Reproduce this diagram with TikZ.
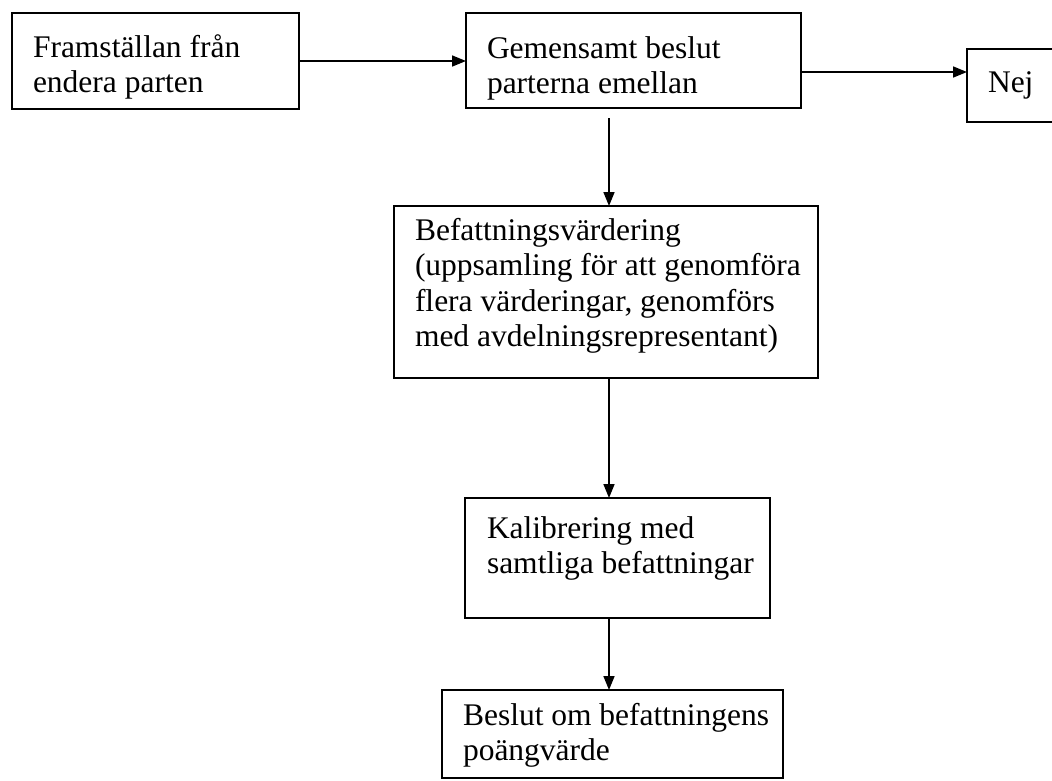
\documentclass[tikz,border=0pt]{standalone}
\usepackage{fontspec}
\setmainfont{Liberation Serif}
\usetikzlibrary{arrows.meta}
\newcommand{\boxtxt}[5]{\parbox[c][#2][t]{#1}{\vspace*{#3}\raggedright\leftskip=#4\relax
\fontsize{31.5pt}{35.5pt}\selectfont\rule{0pt}{25pt}#5}}
\tikzset{
  flowbox/.style={draw=black, line width=1.8pt, anchor=north west, inner sep=0pt, outer sep=0pt},
  arr/.style={draw=black, line width=1.7pt, -{Triangle[length=14pt,width=11pt]}}
}
\begin{document}
\begin{tikzpicture}[x=1pt,y=-1pt]
\clip (0,0) rectangle (1052,780);
\fill[white] (0,0) rectangle (1052,780);
\node[flowbox] (b1) at (12,13) {\boxtxt{287pt}{96pt}{19pt}{21pt}{Framställan från\\endera parten}};
\node[flowbox] (b2) at (466,13) {\boxtxt{335pt}{95pt}{20pt}{21pt}{Gemensamt beslut\\parterna emellan}};
\node[flowbox] (nej) at (967,49) {\boxtxt{110pt}{73pt}{18pt}{21pt}{Nej}};
\node[flowbox] (b4) at (394,206) {\boxtxt{424pt}{172pt}{9pt}{21pt}{Befattningsvärdering\\(uppsamling för att genomföra\\flera värderingar, genomförs\\med avdelningsrepresentant)}};
\node[flowbox] (b5) at (465,498) {\boxtxt{305pt}{120pt}{15pt}{22pt}{Kalibrering med\\samtliga befattningar}};
\node[flowbox] (b6) at (442,690) {\boxtxt{341pt}{88pt}{10pt}{21pt}{Beslut om befattningens\\poängvärde}};
\coordinate (c3) at (609,118);
\draw[arr] (b1.east) -- (b1.east -| b2.west);
\draw[arr] ([yshift=-11.5pt]b2.east) -- ([yshift=-11.5pt]b2.east -| nej.west);
\draw[arr] (c3) -- (c3 |- b4.north);
\draw[arr] (b4.south -| c3) -- (b5.north -| c3);
\draw[arr] (b5.south -| c3) -- (b6.north -| c3);
\end{tikzpicture}
\end{document}
